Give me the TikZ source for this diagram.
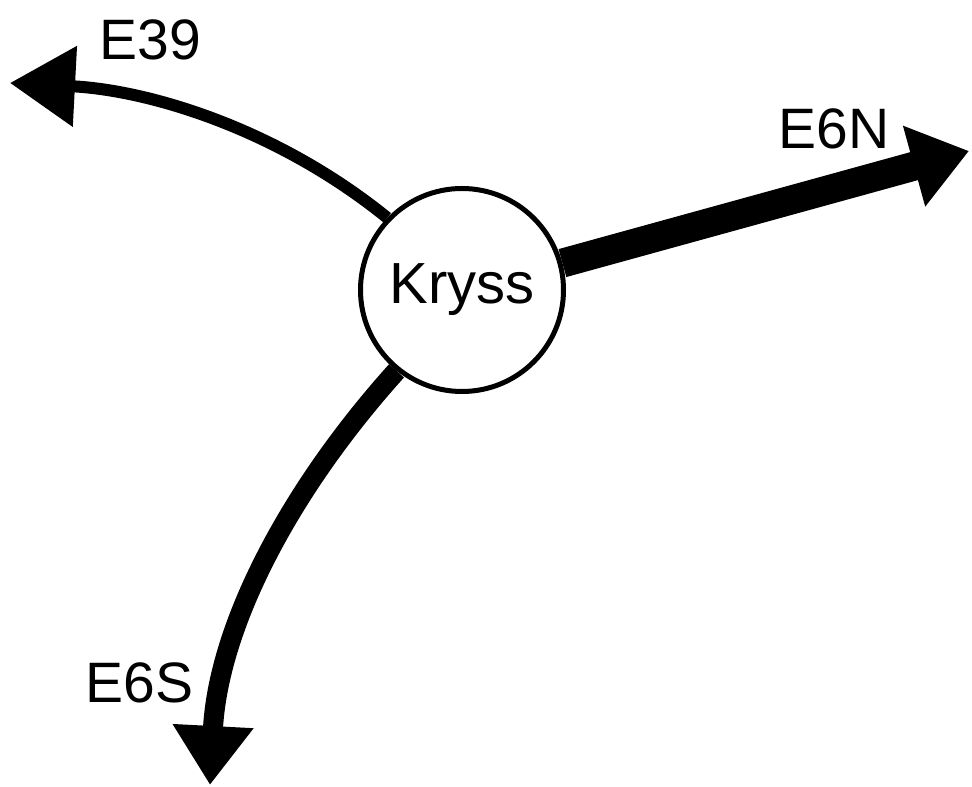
\documentclass[tikz,border=0pt]{standalone}
\usepackage{fontspec}
\setmainfont{Liberation Sans}
\usetikzlibrary{arrows.meta}
\begin{document}
\begin{tikzpicture}[x=1pt,y=1pt,
  junction/.style={circle, draw=black, fill=white, line width=5pt,
    minimum size=203pt, inner sep=0pt, font=\fontsize{58}{58}\selectfont},
  roadlabel/.style={anchor=base, inner sep=0pt, font=\fontsize{57}{57}\selectfont},
  road/.style={draw=black, line cap=butt}
]
\useasboundingbox (0,0) rectangle (972,787);

% junction
\node[junction] (k) at (462,497) {Kryss};

% arrow tips of the three roads
\coordinate (e39tip) at (10,704);
\coordinate (e6ntip) at (969,636);
\coordinate (e6stip) at (210,2);

% roads
\draw[road, line width=12pt, -{Triangle[length=65pt,width=78pt]}]
  (k.136) to[out=141, in=-3, looseness=0.9] (e39tip);
\draw[road, line width=29pt, -{Triangle[length=57pt,width=80pt]}]
  (k.15.5) -- (e6ntip);
\draw[road, line width=20pt, -{Triangle[length=59pt,width=77pt]}]
  (k.231.5) to[out=228, in=87, looseness=0.9] (e6stip);

% road names
\node[roadlabel] (l39) at (150,727) {E39};
\node[roadlabel] (l6n) at (834,638) {E6N};
\node[roadlabel] (l6s) at (139.5,84) {E6S};
\end{tikzpicture}
\end{document}
